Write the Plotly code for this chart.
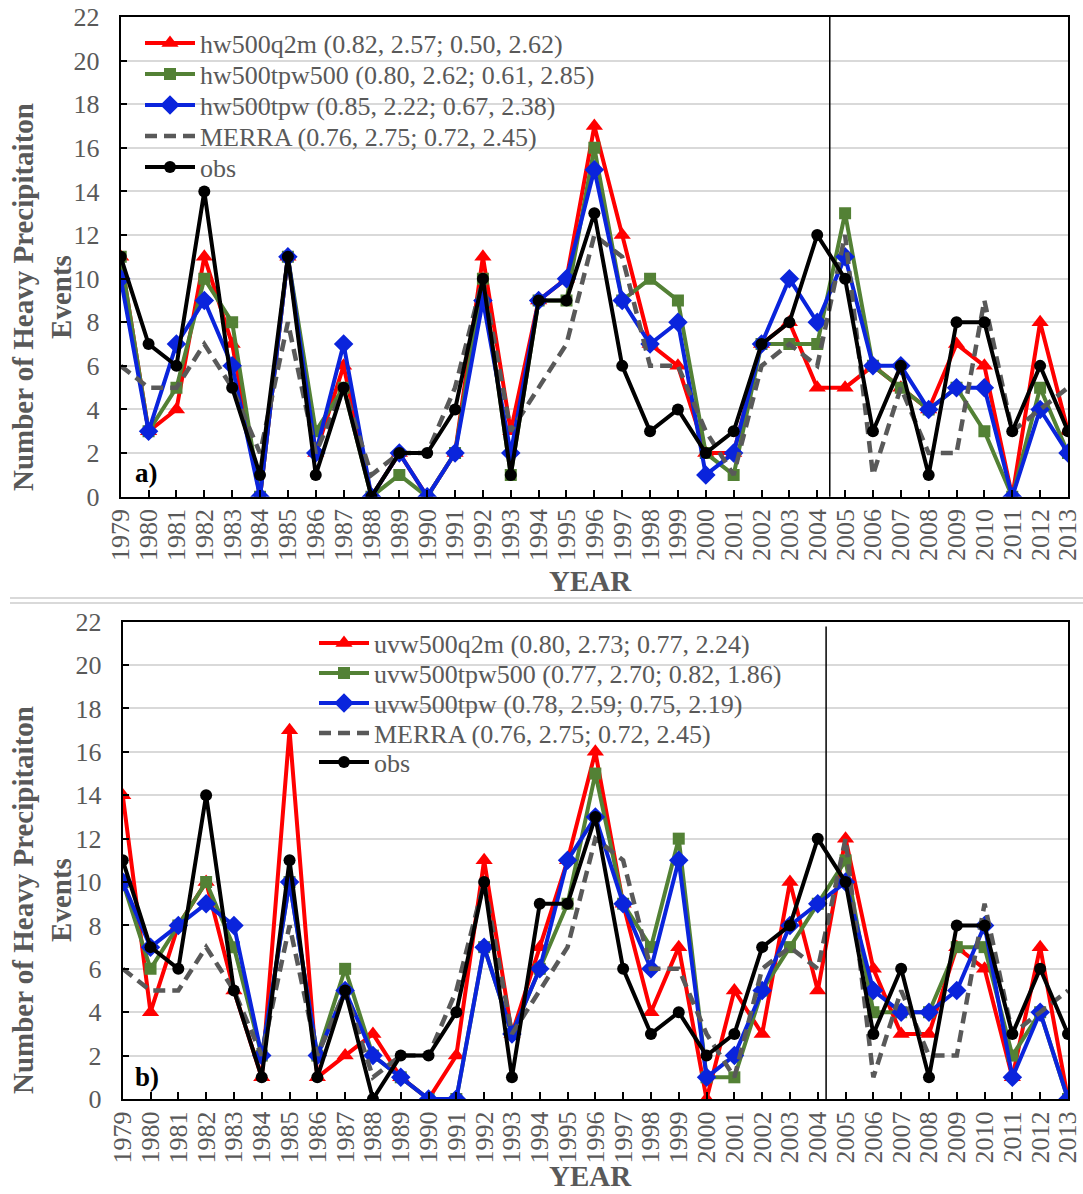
import plotly.graph_objects as go

W, H = 1083, 1194
years = list(range(1979, 2014))
year_labels = [str(y) for y in years]
y_ticks = list(range(0, 23, 2))

obs = [11, 7, 6, 14, 5, 1, 11, 1, 5, 0, 2, 2, 4, 10, 1, 9, 9, 13, 6, 3, 4, 2, 3, 7, 8, 12, 10, 3, 6, 1, 8, 8, 3, 6, 3]
merra = [6, 5, 5, 7, 5, 2, 8, 2, 5, 1, 2, 2, 5, 10, 3, 5, 7, 12, 11, 6, 6, 3, 1, 6, 7, 6, 12, 1, 5, 2, 2, 9, 3, 4, 5]

hw500q2m = [11, 3, 4, 11, 7, 0, 11, 2, 6, 0, 2, 0, 2, 11, 3, 9, 10, 17, 12, 7, 6, 2, 2, 7, 8, 5, 5, 6, 5, 4, 7, 6, 0, 8, 3]
hw500tpw500 = [11, 3, 5, 10, 8, 0, 11, 3, 5, 0, 1, 0, 2, 10, 1, 9, 9, 16, 9, 10, 9, 2, 1, 7, 7, 7, 13, 6, 5, 4, 5, 3, 0, 5, 2]
hw500tpw = [10, 3, 7, 9, 6, 0, 11, 2, 7, 0, 2, 0, 2, 9, 2, 9, 10, 15, 9, 7, 8, 1, 2, 7, 10, 8, 11, 6, 6, 4, 5, 5, 0, 4, 2]

uvw500q2m = [14, 4, 8, 10, 5, 1, 17, 1, 2, 3, 1, 0, 2, 11, 3, 7, 11, 16, 9, 4, 7, 0, 5, 3, 10, 5, 12, 6, 3, 3, 7, 6, 1, 7, 0]
uvw500tpw500 = [10, 6, 8, 10, 7, 2, 10, 2, 6, 2, 1, 0, 0, 7, 3, 6, 9, 15, 9, 7, 12, 1, 1, 5, 7, 9, 11, 4, 4, 4, 7, 7, 2, 4, 0]
uvw500tpw = [10, 7, 8, 9, 8, 2, 10, 2, 5, 2, 1, 0, 0, 7, 3, 6, 11, 13, 9, 6, 11, 1, 2, 5, 8, 9, 10, 5, 4, 4, 5, 8, 1, 4, 0]

names_a = ["hw500q2m (0.82, 2.57; 0.50, 2.62)",
           "hw500tpw500 (0.80, 2.62; 0.61, 2.85)",
           "hw500tpw (0.85, 2.22; 0.67, 2.38)",
           "MERRA (0.76, 2.75; 0.72, 2.45)",
           "obs"]
names_b = ["uvw500q2m (0.80, 2.73; 0.77, 2.24)",
           "uvw500tpw500 (0.77, 2.70; 0.82, 1.86)",
           "uvw500tpw (0.78, 2.59; 0.75, 2.19)",
           "MERRA (0.76, 2.75; 0.72, 2.45)",
           "obs"]

split_a = 2004.45
split_b = 2004.3

RED = "#FF0000"
GREEN = "#538135"
BLUE = "#0A24DC"
GRAY = "#595959"
TXT = "#595959"
FONT = "Liberation Serif"

styles = [
    dict(line=dict(color=RED, width=4), marker=dict(symbol="triangle-up", size=15, color=RED)),
    dict(line=dict(color=GREEN, width=4), marker=dict(symbol="square", size=12, color=GREEN)),
    dict(line=dict(color=BLUE, width=4), marker=dict(symbol="diamond", size=15, color=BLUE)),
    dict(line=dict(color=GRAY, width=4.5, dash="12px,7px"), marker=dict(size=1, color=GRAY, opacity=0)),
    dict(line=dict(color="black", width=4), marker=dict(symbol="circle", size=12, color="black")),
]


def px_x(p):
    return p / W


def px_y(p):
    return 1 - p / H


# legend item centres (px) for each panel
leg_a_x, leg_a_y = 140, [43, 74, 105, 136, 167]
leg_b_x, leg_b_y = 314, [643, 673, 703, 733, 762]

fig = go.Figure()
series_a = [hw500q2m, hw500tpw500, hw500tpw, merra, obs]
series_b = [uvw500q2m, uvw500tpw500, uvw500tpw, merra, obs]

legend_layouts = {}
k = 0
for series, names, xa, ya, lx, lys in [
        (series_a, names_a, "x", "y", leg_a_x, leg_a_y),
        (series_b, names_b, "x2", "y2", leg_b_x, leg_b_y)]:
    for vals, nm, st, ly in zip(series, names, styles, lys):
        k += 1
        lname = "legend" if k == 1 else f"legend{k}"
        mode = "lines" if nm.startswith("MERRA") else "lines+markers"
        fig.add_trace(go.Scatter(x=years, y=vals, name=nm, mode=mode, xaxis=xa, yaxis=ya,
                                 legend=lname, **st))
        legend_layouts[lname] = dict(x=px_x(lx), y=px_y(ly), xanchor="left", yanchor="middle",
                                     bgcolor="rgba(0,0,0,0)", itemwidth=50,
                                     font=dict(family=FONT, size=26, color=TXT))

xcommon = dict(range=[1978.999, 2013.001], tickvals=years, ticktext=year_labels, tickangle=-90,
               ticks="inside", ticklen=7, tickcolor="black", tickwidth=1.5,
               showline=True, linecolor="black", linewidth=2, mirror=True,
               showgrid=False, zeroline=False, ticklabeloverflow="allow",
               tickfont=dict(family=FONT, size=26, color=TXT), ticklabelstandoff=0)
ycommon = dict(range=[0, 22], tickvals=y_ticks, ticks="inside", ticklen=6, tickcolor="black",
               tickwidth=1.5, showline=True, linecolor="black", linewidth=2, mirror=True,
               showgrid=True, gridcolor="#d9d9d9", gridwidth=1.5, zeroline=False,
               tickfont=dict(family=FONT, size=26, color=TXT), ticklabelstandoff=14)

fig.update_layout(
    width=W, height=H,
    margin=dict(l=0, r=0, t=0, b=0, autoexpand=False),
    paper_bgcolor="white", plot_bgcolor="white",
    font=dict(family=FONT, color=TXT),
    xaxis=dict(domain=[px_x(120.7), px_x(1068)], anchor="y", **xcommon),
    yaxis=dict(domain=[px_y(496.7), px_y(17)], anchor="x", **ycommon),
    xaxis2=dict(domain=[px_x(122.7), px_x(1068)], anchor="y2", **xcommon),
    yaxis2=dict(domain=[px_y(1099), px_y(621.7)], anchor="x2", **ycommon),
    showlegend=True,
    **legend_layouts,
)

shapes = [
    dict(type="line", xref="x", yref="y domain", x0=split_a, x1=split_a, y0=0, y1=1,
         line=dict(color="black", width=1.5)),
    dict(type="line", xref="x2", yref="y2 domain", x0=split_b, x1=split_b, y0=0, y1=0.99,
         line=dict(color="black", width=1.5)),
    dict(type="line", xref="paper", yref="paper", x0=px_x(10), x1=1, y0=px_y(598), y1=px_y(598),
         line=dict(color="#d9d9d9", width=2)),
    dict(type="line", xref="paper", yref="paper", x0=px_x(10), x1=1, y0=px_y(603), y1=px_y(603),
         line=dict(color="#d9d9d9", width=2)),
]
fig.update_layout(shapes=shapes)

ytitle = "Number of Heavy Precipitaiton<br>Events"
common_ann = dict(xref="paper", yref="paper", showarrow=False, xanchor="center", yanchor="middle")
annotations = [
    dict(text="<b>a)</b>", x=px_x(146), y=px_y(473),
         font=dict(family=FONT, size=27, color="black"), **common_ann),
    dict(text="<b>b)</b>", x=px_x(147), y=px_y(1077),
         font=dict(family=FONT, size=27, color="black"), **common_ann),
    dict(text="<b>YEAR</b>", x=px_x(590), y=px_y(581),
         font=dict(family=FONT, size=29, color=TXT), **common_ann),
    dict(text="<b>YEAR</b>", x=px_x(590), y=px_y(1176),
         font=dict(family=FONT, size=29, color=TXT), **common_ann),
    dict(text="<b>" + ytitle + "</b>", x=px_x(42), y=px_y(297), textangle=-90,
         font=dict(family=FONT, size=29, color=TXT), **common_ann),
    dict(text="<b>" + ytitle + "</b>", x=px_x(42), y=px_y(900), textangle=-90,
         font=dict(family=FONT, size=29, color=TXT), **common_ann),
]
fig.update_layout(annotations=annotations)

fig.write_html("out.html")
